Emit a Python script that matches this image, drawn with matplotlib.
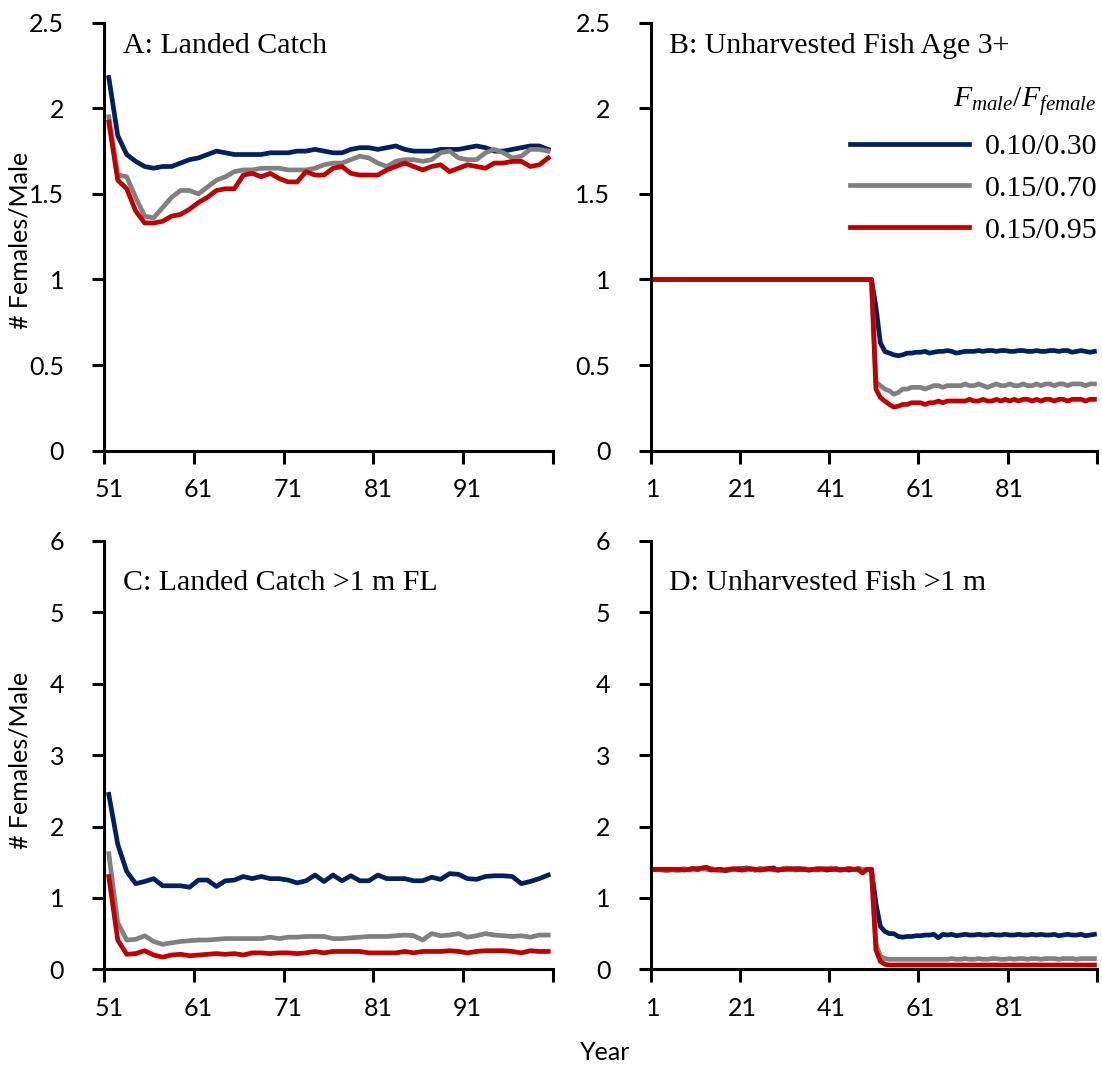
import numpy as np
import matplotlib
matplotlib.use("Agg")
import matplotlib.pyplot as plt
from matplotlib.ticker import FixedLocator, NullFormatter, FixedFormatter

plt.rcParams["mathtext.fontset"] = "custom"
plt.rcParams["mathtext.it"] = "Liberation Serif:italic"
plt.rcParams["mathtext.rm"] = "Liberation Serif"

# ---------------- data ----------------
years_post = list(range(51, 101))      # panels A and C
years_all = list(range(1, 101))        # panels B and D

scenarios = ["0.10/0.30", "0.15/0.70", "0.15/0.95"]
colors = ["#002060", "#808080", "#C00000"]

# A: Landed catch, females per male (years 51-100)
catch_010_030 = [2.18, 1.84, 1.73, 1.69, 1.66, 1.65, 1.66, 1.66, 1.68, 1.70,
                 1.71, 1.73, 1.75, 1.74, 1.73, 1.73, 1.73, 1.73, 1.74, 1.74,
                 1.74, 1.75, 1.75, 1.76, 1.75, 1.74, 1.74, 1.76, 1.77, 1.77,
                 1.76, 1.77, 1.78, 1.76, 1.75, 1.75, 1.75, 1.76, 1.76, 1.76,
                 1.77, 1.78, 1.77, 1.75, 1.75, 1.76, 1.77, 1.78, 1.78, 1.76]
catch_015_070 = [1.95, 1.61, 1.60, 1.48, 1.37, 1.36, 1.42, 1.48, 1.52, 1.52,
                 1.50, 1.54, 1.58, 1.60, 1.63, 1.64, 1.64, 1.65, 1.65, 1.65,
                 1.64, 1.64, 1.64, 1.65, 1.67, 1.68, 1.68, 1.70, 1.72, 1.71,
                 1.68, 1.66, 1.69, 1.70, 1.70, 1.69, 1.70, 1.74, 1.75, 1.71,
                 1.70, 1.70, 1.74, 1.76, 1.74, 1.71, 1.72, 1.76, 1.76, 1.75]
catch_015_095 = [1.92, 1.58, 1.53, 1.40, 1.33, 1.33, 1.34, 1.37, 1.38, 1.41,
                 1.45, 1.48, 1.52, 1.53, 1.53, 1.61, 1.62, 1.60, 1.62, 1.59,
                 1.57, 1.57, 1.63, 1.61, 1.61, 1.65, 1.66, 1.62, 1.61, 1.61,
                 1.61, 1.64, 1.66, 1.68, 1.66, 1.64, 1.66, 1.67, 1.63, 1.65,
                 1.67, 1.66, 1.65, 1.68, 1.68, 1.69, 1.69, 1.66, 1.67, 1.71]

# B: Unharvested fish age 3+ (years 1-100)
unh_010_030 = [1.0] * 50 + [
    0.84, 0.63, 0.58, 0.57, 0.56, 0.555, 0.56, 0.57, 0.57, 0.575,
    0.575, 0.58, 0.57, 0.575, 0.58, 0.58, 0.585, 0.58, 0.57, 0.575,
    0.58, 0.58, 0.58, 0.585, 0.58, 0.585, 0.585, 0.58, 0.585, 0.585,
    0.58, 0.58, 0.585, 0.585, 0.58, 0.58, 0.585, 0.58, 0.58, 0.585,
    0.585, 0.58, 0.585, 0.585, 0.575, 0.58, 0.585, 0.58, 0.575, 0.58]
unh_015_070 = [1.0] * 50 + [
    0.40, 0.38, 0.36, 0.35, 0.33, 0.34, 0.36, 0.36, 0.37, 0.37,
    0.37, 0.36, 0.37, 0.38, 0.38, 0.37, 0.38, 0.38, 0.38, 0.38,
    0.39, 0.38, 0.38, 0.39, 0.38, 0.37, 0.38, 0.39, 0.38, 0.38,
    0.39, 0.38, 0.38, 0.39, 0.38, 0.38, 0.39, 0.38, 0.39, 0.39,
    0.38, 0.39, 0.39, 0.38, 0.39, 0.39, 0.39, 0.38, 0.39, 0.39]
unh_015_095 = [1.0] * 50 + [
    0.36, 0.31, 0.29, 0.27, 0.255, 0.26, 0.27, 0.27, 0.28, 0.28,
    0.28, 0.27, 0.28, 0.28, 0.29, 0.28, 0.29, 0.29, 0.29, 0.29,
    0.29, 0.30, 0.29, 0.29, 0.30, 0.29, 0.29, 0.30, 0.29, 0.30,
    0.29, 0.30, 0.29, 0.30, 0.30, 0.29, 0.30, 0.29, 0.30, 0.30,
    0.29, 0.30, 0.30, 0.29, 0.30, 0.30, 0.30, 0.29, 0.30, 0.30]

# C: Landed catch > 1 m FL (years 51-100)
big_catch_010_030 = [2.45, 1.75, 1.37, 1.20, 1.23, 1.27, 1.17, 1.17, 1.17, 1.15,
                     1.25, 1.25, 1.16, 1.24, 1.25, 1.30, 1.27, 1.30, 1.27, 1.27,
                     1.25, 1.21, 1.24, 1.32, 1.23, 1.32, 1.24, 1.31, 1.24, 1.24,
                     1.32, 1.27, 1.27, 1.27, 1.24, 1.24, 1.29, 1.26, 1.34, 1.33,
                     1.27, 1.26, 1.30, 1.31, 1.31, 1.30, 1.20, 1.23, 1.27, 1.32]
big_catch_015_070 = [1.62, 0.65, 0.41, 0.42, 0.47, 0.39, 0.35, 0.37, 0.39, 0.40,
                     0.41, 0.41, 0.42, 0.43, 0.43, 0.43, 0.43, 0.43, 0.45, 0.43,
                     0.45, 0.45, 0.46, 0.46, 0.46, 0.43, 0.43, 0.44, 0.45, 0.46,
                     0.46, 0.46, 0.47, 0.48, 0.47, 0.41, 0.50, 0.47, 0.48, 0.50,
                     0.45, 0.47, 0.50, 0.48, 0.47, 0.46, 0.47, 0.45, 0.48, 0.48]
big_catch_015_095 = [1.30, 0.41, 0.21, 0.22, 0.26, 0.20, 0.17, 0.20, 0.21, 0.19,
                     0.20, 0.21, 0.22, 0.21, 0.22, 0.20, 0.23, 0.23, 0.22, 0.23,
                     0.23, 0.22, 0.23, 0.25, 0.23, 0.25, 0.25, 0.25, 0.25, 0.23,
                     0.23, 0.23, 0.23, 0.25, 0.23, 0.25, 0.25, 0.25, 0.26, 0.25,
                     0.23, 0.25, 0.26, 0.26, 0.26, 0.25, 0.23, 0.26, 0.25, 0.25]

# D: Unharvested fish > 1 m (years 1-100)
big_unh_010_030 = [
    1.40, 1.40, 1.40, 1.40, 1.40, 1.39, 1.39, 1.40, 1.40, 1.41,
    1.40, 1.41, 1.41, 1.39, 1.40, 1.40, 1.38, 1.39, 1.40, 1.41,
    1.41, 1.42, 1.40, 1.39, 1.41, 1.40, 1.41, 1.42, 1.39, 1.40,
    1.41, 1.40, 1.41, 1.41, 1.40, 1.39, 1.40, 1.41, 1.40, 1.39,
    1.40, 1.41, 1.40, 1.40, 1.39, 1.40, 1.41, 1.40, 1.40, 1.40,
    0.92, 0.60, 0.53, 0.50, 0.50, 0.46, 0.45, 0.46, 0.46, 0.47,
    0.47, 0.48, 0.48, 0.49, 0.44, 0.49, 0.48, 0.49, 0.47, 0.48,
    0.49, 0.48, 0.48, 0.49, 0.48, 0.48, 0.49, 0.48, 0.48, 0.49,
    0.48, 0.48, 0.49, 0.48, 0.48, 0.49, 0.48, 0.49, 0.48, 0.48,
    0.49, 0.47, 0.48, 0.49, 0.48, 0.48, 0.49, 0.47, 0.48, 0.49]
big_unh_015_070 = [
    1.40, 1.40, 1.39, 1.38, 1.39, 1.40, 1.40, 1.41, 1.39, 1.40,
    1.42, 1.41, 1.40, 1.41, 1.40, 1.38, 1.39, 1.40, 1.40, 1.39,
    1.40, 1.41, 1.40, 1.39, 1.40, 1.41, 1.40, 1.40, 1.39, 1.41,
    1.42, 1.40, 1.39, 1.40, 1.41, 1.40, 1.40, 1.39, 1.40, 1.41,
    1.42, 1.40, 1.39, 1.40, 1.41, 1.40, 1.39, 1.40, 1.40, 1.40,
    0.35, 0.18, 0.15, 0.14, 0.14, 0.14, 0.14, 0.14, 0.14, 0.14,
    0.14, 0.14, 0.14, 0.14, 0.14, 0.14, 0.14, 0.15, 0.14, 0.14,
    0.15, 0.14, 0.14, 0.15, 0.14, 0.14, 0.15, 0.15, 0.14, 0.14,
    0.15, 0.14, 0.15, 0.15, 0.14, 0.15, 0.15, 0.14, 0.15, 0.15,
    0.15, 0.14, 0.15, 0.15, 0.15, 0.14, 0.15, 0.15, 0.15, 0.15]
big_unh_015_095 = [
    1.40, 1.40, 1.40, 1.40, 1.40, 1.40, 1.40, 1.39, 1.40, 1.41,
    1.40, 1.42, 1.43, 1.40, 1.39, 1.40, 1.39, 1.40, 1.41, 1.40,
    1.39, 1.40, 1.41, 1.40, 1.39, 1.40, 1.41, 1.40, 1.39, 1.40,
    1.40, 1.41, 1.40, 1.40, 1.40, 1.39, 1.40, 1.40, 1.41, 1.40,
    1.40, 1.40, 1.39, 1.40, 1.41, 1.40, 1.40, 1.35, 1.40, 1.40,
    0.27, 0.11, 0.07, 0.06, 0.06, 0.06, 0.06, 0.06, 0.06, 0.06,
    0.06, 0.06, 0.06, 0.06, 0.06, 0.06, 0.06, 0.06, 0.06, 0.06,
    0.06, 0.06, 0.06, 0.06, 0.06, 0.06, 0.06, 0.06, 0.06, 0.06,
    0.06, 0.06, 0.06, 0.06, 0.06, 0.06, 0.06, 0.06, 0.06, 0.06,
    0.06, 0.06, 0.06, 0.06, 0.06, 0.06, 0.06, 0.06, 0.06, 0.06]

# ---------------- figure ----------------
SANS = "Lato"
SERIF = "Liberation Serif"
TICK_FS = 18
TITLE_FS = 21.5
LW = 3.4

fig = plt.figure(figsize=(11.02, 10.69), dpi=100)

W = 1102.0
H = 1069.0


def make_axes(left_px, right_px, top_px, bottom_px):
    return fig.add_axes([left_px / W, 1 - bottom_px / H,
                         (right_px - left_px) / W, (bottom_px - top_px) / H])


axA = make_axes(104.3, 552.7, 22.7, 450.7)
axB = make_axes(650.7, 1096.7, 22.7, 450.7)
axC = make_axes(104.3, 552.7, 541.0, 969.3)
axD = make_axes(650.7, 1096.7, 541.0, 969.3)


def style_axis(ax, first, last, step, ymax, ystep):
    # category-style axis: tick marks between categories, labels under categories
    ax.set_xlim(first - 0.5, last + 0.5)
    bounds = [first - 0.5 + k for k in range(0, last - first + 2, step)]
    ax.xaxis.set_major_locator(FixedLocator(bounds))
    ax.xaxis.set_major_formatter(NullFormatter())
    lab_pos = list(range(first, last + 1, step))
    ax.xaxis.set_minor_locator(FixedLocator(lab_pos))
    ax.xaxis.set_minor_formatter(FixedFormatter([str(v) for v in lab_pos]))
    ax.tick_params(axis="x", which="major", direction="out", length=9, width=2.2)
    ax.tick_params(axis="x", which="minor", length=0, pad=20, labelsize=TICK_FS)
    ax.set_ylim(0, ymax)
    yt = [round(ystep * k, 2) for k in range(int(round(ymax / ystep)) + 1)]
    ax.set_yticks(yt)
    ax.set_yticklabels(["%g" % v for v in yt])
    ax.tick_params(axis="y", direction="out", length=9, width=2.2, pad=20,
                   labelsize=TICK_FS)
    for lab in ax.get_xticklabels(minor=True) + ax.get_yticklabels():
        lab.set_fontfamily(SANS)
    for s in ("top", "right"):
        ax.spines[s].set_visible(False)
    for s in ("left", "bottom"):
        ax.spines[s].set_linewidth(2.2)


def draw(ax, x, series):
    handles = []
    for ys, c, lab in zip(series, colors, scenarios):
        h, = ax.plot(x, ys, color=c, lw=LW, label=lab, solid_joinstyle="round",
                     clip_on=False)
        handles.append(h)
    return handles


draw(axA, years_post, [catch_010_030, catch_015_070, catch_015_095])
hB = draw(axB, years_all, [unh_010_030, unh_015_070, unh_015_095])
draw(axC, years_post, [big_catch_010_030, big_catch_015_070, big_catch_015_095])
draw(axD, years_all, [big_unh_010_030, big_unh_015_070, big_unh_015_095])

style_axis(axA, 51, 100, 10, 2.5, 0.5)
style_axis(axB, 1, 100, 20, 2.5, 0.5)
style_axis(axC, 51, 100, 10, 6, 1)
style_axis(axD, 1, 100, 20, 6, 1)

# panel titles
axA.text(0.042, 0.929, "A: Landed Catch", transform=axA.transAxes,
         family=SERIF, fontsize=TITLE_FS, va="baseline")
axB.text(0.041, 0.929, "B: Unharvested Fish Age 3+", transform=axB.transAxes,
         family=SERIF, fontsize=TITLE_FS, va="baseline")
axC.text(0.042, 0.886, "C: Landed Catch >1 m FL", transform=axC.transAxes,
         family=SERIF, fontsize=TITLE_FS, va="baseline")
axD.text(0.041, 0.886, "D: Unharvested Fish >1 m", transform=axD.transAxes,
         family=SERIF, fontsize=TITLE_FS, va="baseline")

# legend
leg = axB.legend(handles=hB, loc="upper right",
                 bbox_to_anchor=(1097 / W, 1 - 84 / H),
                 bbox_transform=fig.transFigure,
                 title=r"$F_{male}/F_{female}$",
                 frameon=False, handlelength=4.0, handletextpad=0.5,
                 labelspacing=0.5, borderpad=0, borderaxespad=0,
                 prop={"family": SERIF, "size": TITLE_FS},
                 title_fontsize=TITLE_FS)
leg._legend_box.align = "right"
for line in leg.get_lines():
    line.set_linewidth(LW)

# shared axis labels
fig.text(20 / W, 1 - 240 / H, "# Females/Male", rotation=90, family=SANS,
         fontsize=TICK_FS, ha="center", va="center")
fig.text(20 / W, 1 - 760 / H, "# Females/Male", rotation=90, family=SANS,
         fontsize=TICK_FS, ha="center", va="center")
fig.text(605 / W, 1 - 1052 / H, "Year", family=SANS, fontsize=TICK_FS,
         ha="center", va="center")

fig.savefig("out.png", dpi=100)
